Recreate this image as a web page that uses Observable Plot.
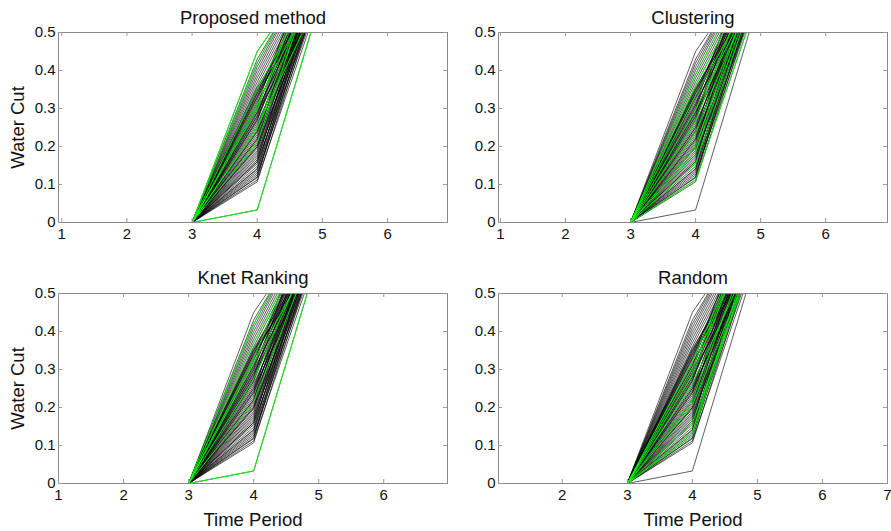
<!DOCTYPE html>
<html><head><meta charset="utf-8">
<script src="https://cdn.jsdelivr.net/npm/d3@7"></script>
<script src="https://cdn.jsdelivr.net/npm/@observablehq/plot@0.6"></script>
<style>
body{margin:0;background:#fff;}
#wrap{position:relative;width:891px;height:531px;font-family:"Liberation Sans",Arial,sans-serif;overflow:hidden;}
#wrap > div{position:absolute;}
</style></head><body><div id="wrap"></div>
<script>
// ---- data ----
const periods = [3, 4, 5];
const cutAt3 = 0;
const cutAt4 = [0.033,0.107,0.112,0.118,0.125,0.130,0.135,0.142,0.148,0.155,
  0.160,0.165,0.170,0.175,0.180,0.185,0.190,0.196,0.200,0.205,
  0.210,0.215,0.220,0.226,0.232,0.238,0.244,0.250,0.256,0.262,
  0.268,0.274,0.280,0.286,0.292,0.298,0.304,0.310,0.316,0.322,
  0.328,0.334,0.340,0.345,0.350,0.355,0.360,0.370,0.380,0.390,
  0.400,0.410,0.420,0.430,0.450,0.240,0.270,0.300,0.330,0.200,
  0.160,0.290,0.250,0.350,0.120,0.140,0.310,0.280,0.220,0.340];
const cutAt5 = [0.60,0.64,0.61,0.66,0.65,0.62,0.67,0.63,0.68,0.65,
  0.62,0.69,0.65,0.70,0.62,0.66,0.71,0.64,0.68,0.62,
  0.71,0.65,0.68,0.64,0.71,0.66,0.63,0.70,0.66,0.63,
  0.71,0.66,0.64,0.71,0.66,0.64,0.71,0.66,0.63,0.71,
  0.66,0.64,0.70,0.66,0.67,0.63,0.69,0.70,0.71,0.72,
  0.73,0.73,0.73,0.72,0.70,0.76,0.76,0.74,0.74,0.75,
  0.73,0.60,0.61,0.59,0.70,0.72,0.78,0.78,0.76,0.62];
const panelTitles = ["Proposed method", "Clustering", "Knet Ranking", "Random"];
const greenProposed = [0, 20, 27, 37, 44, 52, 54, 57, 62];
const greenClustering = [2, 9, 15, 18, 25, 30, 35, 41, 46, 49];
const greenKnet = [0, 21, 31, 38, 47, 52, 58];
const greenRandom = [4, 6, 10, 19, 22, 29, 33, 36, 39];
const xTicksA = [1, 2, 3, 4, 5, 6];
const xTicksRandom = [2, 3, 4, 5, 6, 7];
const yTicks = [0, 0.1, 0.2, 0.3, 0.4, 0.5];
const yTickLabels = ["0", "0.1", "0.2", "0.3", "0.4", "0.5"];
const xLabel = "Time Period";
const yLabel = "Water Cut";

// ---- build rows ----
const rows = cutAt4.flatMap((v, i) => [
  {member: i, period: periods[0], cut: cutAt3},
  {member: i, period: periods[1], cut: v},
  {member: i, period: periods[2], cut: cutAt5[i]}
]);

const panels = [
  {title: panelTitles[0], green: greenProposed, left: 0, top: 0, W: 450, H: 260, ml: 58, mr: 3, mt: 32, mb: 38, xd: [0.95, 6.92], xt: xTicksA, yl: true, xl: false, tb: 23},
  {title: panelTitles[1], green: greenClustering, left: 440, top: 0, W: 451, H: 260, ml: 58, mr: 4, mt: 32, mb: 38, xd: [0.97, 6.95], xt: xTicksA, yl: false, xl: false, tb: 23},
  {title: panelTitles[2], green: greenKnet, left: 0, top: 260, W: 450, H: 271, ml: 58, mr: 3, mt: 33, mb: 48, xd: [1.0, 6.98], xt: xTicksA, yl: true, xl: true, tb: 23},
  {title: panelTitles[3], green: greenRandom, left: 440, top: 260, W: 451, H: 271, ml: 58, mr: 4, mt: 33, mb: 48, xd: [1.02, 7.0], xt: xTicksRandom, yl: false, xl: true, tb: 23}
];

const wrap = document.getElementById("wrap");
for (const p of panels) {
  const iw = p.W - p.ml - p.mr, ih = p.H - p.mt - p.mb;
  const gset = new Set(p.green);
  const marks = [
    Plot.line(rows, {x: "period", y: "cut", z: "member", stroke: "#000", strokeWidth: 0.7, strokeOpacity: 0.9, clip: true}),
    Plot.line(rows.filter(d => gset.has(d.member)), {x: "period", y: "cut", z: "member", stroke: "#00ff00", strokeWidth: 0.9, clip: true}),
    Plot.frame({stroke: "#888"}),
    Plot.tickX(p.xt, {x: d => d, insetTop: ih - 4, stroke: "#999"}),
    Plot.tickX(p.xt, {x: d => d, insetBottom: ih - 4, stroke: "#999"}),
    Plot.tickY(yTicks, {y: d => d, insetRight: iw - 4, stroke: "#999"}),
    Plot.tickY(yTicks, {y: d => d, insetLeft: iw - 4, stroke: "#999"}),
    Plot.axisX(p.xt, {tickSize: 0, tickPadding: 6, fontSize: 15, label: null, fill: "#111"}),
    Plot.axisY(yTicks, {tickSize: 0, tickPadding: 3, fontSize: 15, label: null, fill: "#111", tickFormat: d => yTickLabels[yTicks.indexOf(d)]}),
    Plot.text([p.title], {frameAnchor: "top", lineAnchor: "bottom", dy: p.tb - p.mt, fontSize: 18.5, fill: "#111"})
  ];
  if (p.yl) marks.push(Plot.text([yLabel], {frameAnchor: "left", rotate: -90, lineAnchor: "bottom", textAnchor: "middle", dx: 23 - p.ml, fontSize: 18.5, fill: "#111"}));
  if (p.xl) marks.push(Plot.text([xLabel], {frameAnchor: "bottom", lineAnchor: "bottom", dy: 265 - 223, fontSize: 18.5, fill: "#111"}));
  const chart = Plot.plot({
    width: p.W, height: p.H,
    marginLeft: p.ml, marginRight: p.mr, marginTop: p.mt, marginBottom: p.mb,
    x: {domain: p.xd},
    y: {domain: [0, 0.5]},
    style: {fontFamily: "'Liberation Sans', Arial, sans-serif", background: "transparent", overflow: "visible"},
    marks
  });
  const holder = document.createElement("div");
  holder.style.left = p.left + "px";
  holder.style.top = p.top + "px";
  holder.appendChild(chart);
  wrap.appendChild(holder);
}
</script></body></html>
